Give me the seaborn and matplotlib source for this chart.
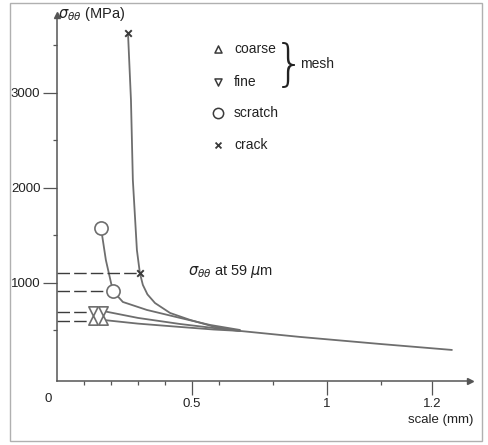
import matplotlib
matplotlib.use("Agg")
import matplotlib.pyplot as plt
import seaborn as sns
import pandas as pd
from matplotlib.patches import Rectangle

# values (scale in mm, stress in MPa)
crack_x = [0.263, 0.274, 0.281, 0.296, 0.307, 0.318, 0.335, 0.363, 0.419, 0.493, 0.585, 0.678, 0.9, 1.196, 1.463]
crack_y = [3632, 2926, 2084, 1347, 1105, 980, 880, 789, 684, 611, 537, 495, 432, 358, 295]
scratch_x = [0.163, 0.181, 0.207, 0.244, 0.333, 0.456, 0.567, 0.678]
scratch_y = [1579, 1242, 916, 800, 716, 632, 558, 505]
fine_x = [0.170, 0.300, 0.456, 0.580, 0.678]
fine_y = [705, 632, 568, 526, 495]
coarse_x = [0.170, 0.300, 0.456, 0.580, 0.678]
coarse_y = [611, 572, 537, 510, 495]

crack_mark_x = [0.263, 0.307]
crack_mark_y = [3632, 1105]
scratch_mark_x = [0.163, 0.207]
scratch_mark_y = [1579, 916]
fine_mark_x = [0.133, 0.170]
fine_mark_y = [705, 705]
coarse_mark_x = [0.133, 0.170]
coarse_mark_y = [611, 611]

# sigma at 59 um, dashed back to the axis
level_y = [1105, 916, 695, 600]
level_end = [0.298, 0.185, 0.112, 0.115]

legend_labels = ["coarse", "fine", "scratch", "crack"]
legend_markers = ["^", "v", "o", "x"]

sns.set_style("ticks")
plt.rcParams["font.family"] = ["Liberation Sans", "DejaVu Sans"]
plt.rcParams["mathtext.fontset"] = "dejavusans"

fig = plt.figure(figsize=(4.88, 4.45), dpi=100)
ax = fig.add_axes([57 / 488, 1 - 381 / 445, 413 / 488, 366 / 445])

line_col = "#6e6e6e"
mark_col = "#3a3a3a"
txt_col = "#222222"

curves = [
    pd.DataFrame({"x": crack_x, "y": crack_y}),
    pd.DataFrame({"x": scratch_x, "y": scratch_y}),
    pd.DataFrame({"x": fine_x, "y": fine_y}),
    pd.DataFrame({"x": coarse_x, "y": coarse_y}),
]
for df in curves:
    sns.lineplot(data=df, x="x", y="y", sort=False, color=line_col, lw=1.3, ax=ax)

ax.hlines(level_y, 0, level_end, colors="#3c3c3c", lw=1.0, linestyles=(0, (9, 3)))

sns.scatterplot(x=crack_mark_x, y=crack_mark_y, marker="x", s=22, color=mark_col,
                linewidth=1.4, ax=ax, zorder=5)
sns.scatterplot(x=scratch_mark_x, y=scratch_mark_y, marker="o", s=90, facecolor="white",
                edgecolor=line_col, linewidth=1.2, ax=ax, zorder=5)
sns.scatterplot(x=fine_mark_x, y=fine_mark_y, marker="v", s=45, facecolor="white",
                edgecolor=line_col, linewidth=1.2, ax=ax, zorder=5)
sns.scatterplot(x=coarse_mark_x, y=coarse_mark_y, marker="^", s=45, facecolor="white",
                edgecolor=line_col, linewidth=1.2, ax=ax, zorder=5)

# legend drawn by hand because of the brace
leg_y = [3463, 3116, 2789, 2453]
for lab, m, yy in zip(legend_labels, legend_markers, leg_y):
    if m == "x":
        ax.scatter(0.596, yy, marker=m, s=18, color=mark_col, linewidth=1.3)
    else:
        ax.scatter(0.596, yy, marker=m, s=26 if m != "o" else 55, facecolor="white",
                   edgecolor=mark_col, linewidth=1.1)
    ax.text(0.656, yy, lab, fontsize=10, va="center", ha="left", color=txt_col)
ax.text(0.805, 3280, "}", fontsize=35, va="center", ha="left", color=txt_col,
        family="DejaVu Sans", fontweight="light")
ax.text(0.9, 3300, "mesh", fontsize=10, va="center", ha="left", color=txt_col)

ax.text(0.485, 1120, r"$\sigma_{\theta\theta}$ at 59 $\mu$m", fontsize=10.5, va="center",
        ha="left", color=txt_col)

ax.set_xlim(0, 1.53)
ax.set_ylim(-32, 3821)
ax.set_xticks([0.5, 1.0, 1.389])
ax.set_xticklabels(["0.5", "1", "1.2"])
ax.set_xticks([0.1, 0.2, 0.3, 0.4, 0.6, 0.8, 1.2], minor=True)
ax.set_yticks([1000, 2000, 3000])
ax.set_yticks([500, 1500, 2500, 3500], minor=True)
ax.tick_params(which="major", length=10, width=0.9, color="#555555", labelsize=9.5,
               labelcolor=txt_col, pad=2)
ax.tick_params(which="minor", length=3, width=0.9, color="#555555")
ax.set_xlabel("")
ax.set_ylabel("")
sns.despine(ax=ax)
for s in ["left", "bottom"]:
    ax.spines[s].set_color("#555555")
    ax.spines[s].set_linewidth(1.1)
ax.plot(1, 0, ">", transform=ax.transAxes, clip_on=False, color="#555555", ms=4)
ax.plot(0, 1, "^", transform=ax.transAxes, clip_on=False, color="#555555", ms=4)

fig.text(48 / 488, 1 - 399 / 445, "0", fontsize=9.5, ha="center", va="center",
         color=txt_col)
fig.text(58 / 488, 1 - 14 / 445, r"$\sigma_{\theta\theta}$ (MPa)", fontsize=10.5,
         ha="left", va="center", color=txt_col)
fig.text(473 / 488, 1 - 420 / 445, "scale (mm)", fontsize=9.5, ha="right", va="center",
         color=txt_col)

fig.patches.append(Rectangle((10 / 488, 1 - 441 / 445), 472 / 488, 438 / 445,
                             transform=fig.transFigure, fill=False, ec="#b0b0b0", lw=1))

fig.savefig("out.png", dpi=100)
